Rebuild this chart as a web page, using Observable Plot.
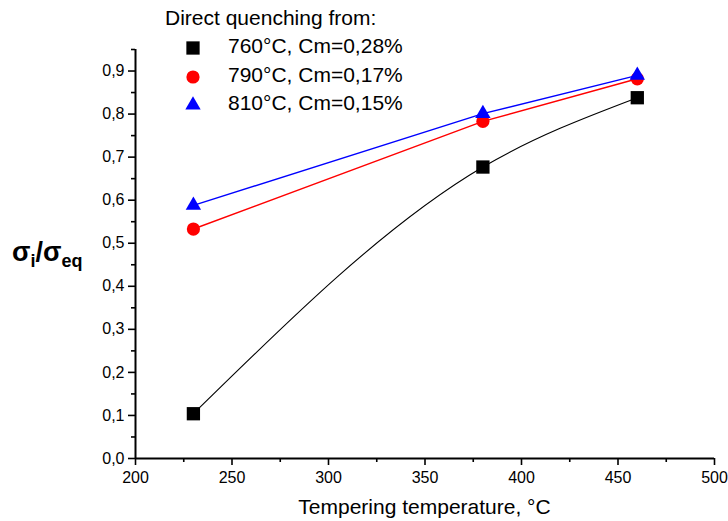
<!DOCTYPE html>
<html>
<head>
<meta charset="utf-8">
<script src="https://cdn.jsdelivr.net/npm/d3@7"></script>
<script src="https://cdn.jsdelivr.net/npm/@observablehq/plot@0.6"></script>
<style>
  html, body { margin: 0; padding: 0; background: #fff; }
  #wrap { position: relative; width: 728px; height: 521px; font-family: "Liberation Sans", Arial, sans-serif; }
  #wrap svg.plot { position: absolute; left: 0; top: 0; }
  .ylab { position: absolute; left: 12px; top: 237px; font-weight: bold; font-size: 27px; white-space: nowrap; }
  .ylab sub { font-size: 18px; vertical-align: -6px; }
  .xlab { position: absolute; left: 135px; width: 579px; top: 495px; text-align: center; font-size: 21px; }
  .legTitle { position: absolute; left: 165px; top: 6px; font-size: 21px; white-space: nowrap; }
  .legRow { position: absolute; left: 228px; font-size: 21px; white-space: nowrap; }
  .legSym { position: absolute; }
</style>
</head>
<body>
<div id="wrap"></div>
<script>
// ---- data ----
const temps = [230, 380, 460];
const s760 = [0.104, 0.677, 0.838];
const s790 = [0.533, 0.783, 0.882];
const s810 = [0.588, 0.801, 0.890];
const seriesLabels = ["760°C, Cm=0,28%", "790°C, Cm=0,17%", "810°C, Cm=0,15%"];
const seriesColors = ["#000000", "#ff0000", "#0000ff"];
const seriesSymbols = ["square", "circle", "triangle"];
const seriesCurves = ["monotone-x", "linear", "linear"];
const seriesR = [7.5, 6.6, 5.7];
const legendTitle = "Direct quenching from:";
const xLabel = "Tempering temperature, °C";
const xMajor = [200, 250, 300, 350, 400, 450, 500];
const xMinor = [225, 275, 325, 375, 425, 475];
const yMajor = [0, 0.1, 0.2, 0.3, 0.4, 0.5, 0.6, 0.7, 0.8, 0.9];
const yMinor = [0.05, 0.15, 0.25, 0.35, 0.45, 0.55, 0.65, 0.75, 0.85, 0.95];

const allSeries = [s760, s790, s810];
const rows = allSeries.flatMap((vals, i) =>
  vals.map((v, j) => ({ series: seriesLabels[i], x: temps[j], y: v, i })));

const fmtY = d => d.toFixed(1).replace(".", ",");

const marks = [
  Plot.axisX({ ticks: xMajor, tickSize: 7, tickPadding: 6, tickFormat: d => String(d), label: null, fontSize: 16, strokeWidth: 1.6 }),
  Plot.axisX({ ticks: xMinor, tickSize: 4, tickFormat: () => "", label: null, strokeWidth: 1.6 }),
  Plot.axisY({ ticks: yMajor, tickSize: 7, tickPadding: 4, tickFormat: fmtY, label: null, fontSize: 16, strokeWidth: 1.6 }),
  Plot.axisY({ ticks: yMinor, tickSize: 4, tickFormat: () => "", label: null, strokeWidth: 1.6 }),
  Plot.ruleY([0], { stroke: "black", strokeWidth: 2 }),
  Plot.ruleX([200], { y1: 0, y2: 0.95, stroke: "black", strokeWidth: 2 })
];
seriesLabels.forEach((lab, i) => {
  const d = rows.filter(r => r.i === i);
  marks.push(Plot.line(d, { x: "x", y: "y", curve: seriesCurves[i], stroke: seriesColors[i], strokeWidth: i === 0 ? 1.1 : 1.4 }));
  marks.push(Plot.dot(d, { x: "x", y: "y", symbol: seriesSymbols[i], r: seriesR[i], fill: seriesColors[i], stroke: "none" }));
});

const chart = Plot.plot({
  width: 728, height: 521,
  marginLeft: 135, marginRight: 14, marginTop: 49, marginBottom: 63,
  x: { domain: [200, 500] },
  y: { domain: [0, 0.95] },
  style: { fontFamily: "'Liberation Sans', Arial, sans-serif", fontSize: "16px", color: "black", background: "white" },
  marks
});
chart.classList.add("plot");
const wrap = document.getElementById("wrap");
wrap.appendChild(chart);

// y label
const yl = document.createElement("div");
yl.className = "ylab";
yl.innerHTML = "σ<sub>i</sub>/σ<sub>eq</sub>";
wrap.appendChild(yl);

// x label
const xl = document.createElement("div");
xl.className = "xlab";
xl.textContent = xLabel;
wrap.appendChild(xl);

// legend
const lt = document.createElement("div");
lt.className = "legTitle";
lt.textContent = legendTitle;
wrap.appendChild(lt);
const symMap = { square: d3.symbolSquare, circle: d3.symbolCircle, triangle: d3.symbolTriangle };
const rowCenters = [48, 77, 105];
seriesLabels.forEach((lab, i) => {
  const s = document.createElementNS("http://www.w3.org/2000/svg", "svg");
  s.setAttribute("width", 24); s.setAttribute("height", 24);
  s.setAttribute("class", "legSym");
  s.style.left = (193 - 12) + "px";
  s.style.top = (rowCenters[i] - 12) + "px";
  const p = document.createElementNS("http://www.w3.org/2000/svg", "path");
  p.setAttribute("d", d3.symbol(symMap[seriesSymbols[i]], Math.PI * seriesR[i] * seriesR[i])());
  p.setAttribute("transform", "translate(12,12)");
  p.setAttribute("fill", seriesColors[i]);
  s.appendChild(p);
  wrap.appendChild(s);
  const t = document.createElement("div");
  t.className = "legRow";
  t.style.top = (rowCenters[i] - 14) + "px";
  t.textContent = lab;
  wrap.appendChild(t);
});
</script>
</body>
</html>
